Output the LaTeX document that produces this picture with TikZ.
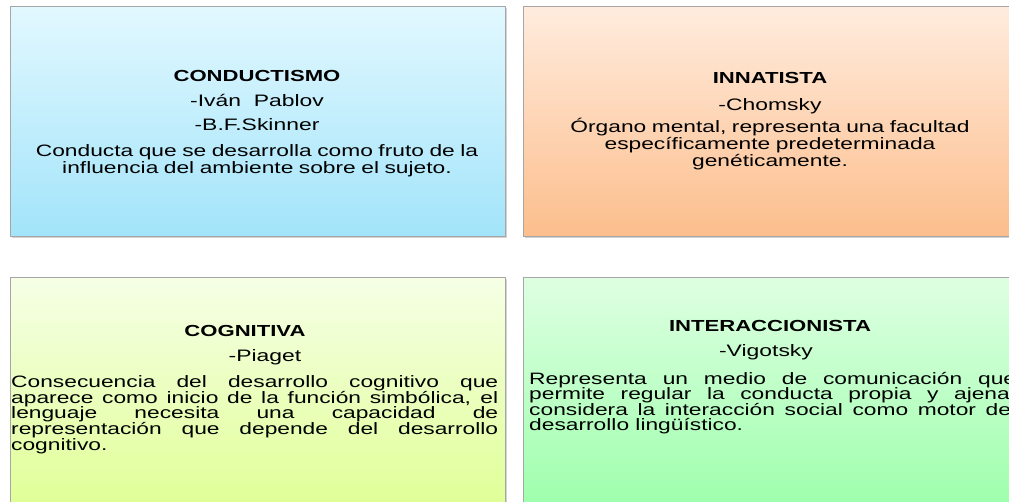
\documentclass[tikz,border=0pt]{standalone}
\usepackage{fontspec}
\setmainfont{Liberation Sans}[FakeStretch=1.38]
\usetikzlibrary{shadows}

\tolerance=10000
\hbadness=10000
\hyphenpenalty=10000

\definecolor{condtop}{RGB}{226,248,255}
\definecolor{condbot}{RGB}{162,228,250}
\definecolor{inntop}{RGB}{255,236,222}
\definecolor{innbot}{RGB}{252,190,140}
\definecolor{cogtop}{RGB}{246,255,230}
\definecolor{cogbot}{RGB}{224,255,150}
\definecolor{intertop}{RGB}{222,255,226}
\definecolor{interbot}{RGB}{158,255,172}

\tikzset{
  card/.style={draw=gray!70, line width=0.8pt, anchor=north west, inner sep=0pt,
    minimum width=495pt, minimum height=230pt,
    drop shadow={shadow xshift=1.2pt, shadow yshift=-1.2pt, opacity=0.35}},
  title/.style={anchor=base, inner sep=0pt, font=\bfseries\fontsize{16}{17}\selectfont},
  author/.style={anchor=base, inner sep=0pt, font=\fontsize{16.6}{17}\selectfont},
  body/.style={inner sep=0pt, text width=487pt, font=\fontsize{16.5}{17}\selectfont},
  lowbody/.style={body, anchor=base west, align=justify, font=\fontsize{16.5}{15.6}\selectfont},
}

\begin{document}
\begin{tikzpicture}[x=1pt, y=-1pt]
\useasboundingbox (0,0) rectangle (1009,501);
\clip (0,0) rectangle (1009,501);

% cards
\node[card, top color=condtop, bottom color=condbot] (conductismo) at (10,6) {};
\node[card, top color=inntop, bottom color=innbot] (innatista) at (523,6) {};
\node[card, top color=cogtop, bottom color=cogbot] (cognitiva) at (10,277) {};
\node[card, top color=intertop, bottom color=interbot] (interaccion) at (523,277) {};

% conductismo
\node[title] (t1) at (257,81) {CONDUCTISMO};
\node[author] (a1) at (257,106) {-Iván\ \ Pablov};
\node[author] (a2) at (257,130) {-B.F.Skinner};
\node[body, anchor=base, align=center] (d1) at (257,156)
  {Conducta que se desarrolla como fruto de la\\influencia del ambiente sobre el sujeto.};

% innatista
\node[title] (t2) at (770,83.5) {INNATISTA};
\node[author] (a3) at (770,110) {-Chomsky};
\node[body, anchor=base, align=center] (d2) at (770,132)
  {Órgano mental, representa una facultad\\específicamente predeterminada\\genéticamente.};

% cognitiva
\node[title] (t3) at (245,336) {COGNITIVA};
\node[author] (a4) at (265,361.7) {-Piaget};
\node[lowbody] (d3) at (11,387.7)
  {Consecuencia del desarrollo cognitivo que\linebreak
   aparece como inicio de la función simbólica, el\linebreak
   lenguaje necesita una capacidad de\linebreak
   representación que depende del desarrollo\linebreak
   cognitivo.};

% interaccionista
\node[title] (t4) at (770,331.7) {INTERACCIONISTA};
\node[author] (a5) at (766,356.7) {-Vigotsky};
\node[lowbody] (d4) at (529,384)
  {Representa un medio de comunicación que\linebreak
   permite regular la conducta propia y ajena,\linebreak
   considera la interacción social como motor del\linebreak
   desarrollo lingüístico.};
\end{tikzpicture}
\end{document}
